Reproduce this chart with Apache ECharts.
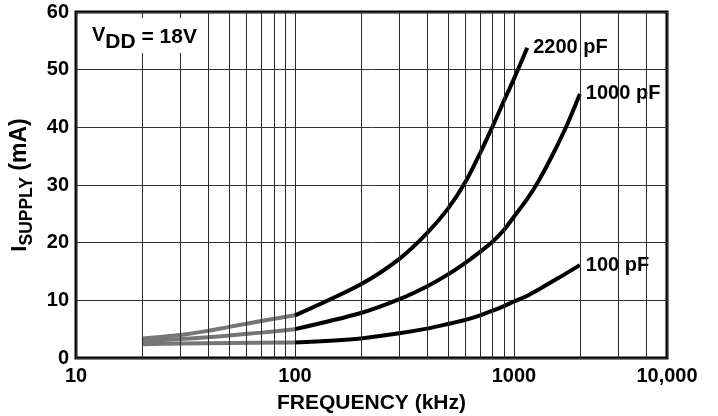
<!DOCTYPE html>
<html>
<head>
<meta charset="utf-8">
<script src="https://cdn.jsdelivr.net/npm/echarts@6/dist/echarts.min.js"></script>
<style>
  html, body { margin: 0; padding: 0; background: #fff; }
  #chart { width: 718px; height: 416px; }
</style>
</head>
<body>
<div id="chart"></div>
<script>
// Supply current versus switching frequency at VDD = 18 V, for three load capacitances.
const freq2200 = [20, 30, 40, 50, 70, 100, 200, 300, 400, 500, 600, 700, 800, 900, 1000, 1150];
const supply2200 = [3.4, 4.0, 4.7, 5.4, 6.4, 7.4, 12.8, 17.2, 21.6, 25.9, 30.5, 35.5, 40.2, 44.6, 48.4, 53.8];

const freq1000 = [20, 30, 40, 50, 70, 100, 200, 300, 400, 500, 600, 700, 800, 900, 1000, 1150, 1300, 1500, 1750, 2000];
const supply1000 = [2.9, 3.3, 3.6, 3.9, 4.4, 5.0, 7.8, 10.2, 12.4, 14.5, 16.5, 18.4, 20.2, 22.2, 24.5, 27.6, 30.8, 35.2, 40.5, 45.8];

const freq100 = [20, 30, 50, 100, 200, 300, 400, 500, 600, 700, 800, 900, 1000, 1150, 1300, 1600, 2000];
const supply100 = [2.4, 2.5, 2.6, 2.7, 3.4, 4.3, 5.1, 5.9, 6.6, 7.4, 8.2, 9.0, 9.8, 10.8, 11.9, 13.9, 16.1];

const curveNames = ['2200 pF', '1000 pF', '100 pF'];

// Frequency tick labels (the printed scale ends with a "10,000" mark at the right edge)
const xTickText = ['10', '100', '1000', '10,000'];
// Intermediate log-grid frequencies
const minorGridFreq = [20, 30, 40, 50, 60, 70, 80, 90, 200, 300, 400, 500, 600, 700, 800, 900, 2000, 3000, 4000];

// Below this frequency the traces are printed in a lighter grey
const shadeBelow = 100;

const FONT = 'Liberation Sans, Arial, sans-serif';

const pairs = (xs, ys) => xs.map((x, i) => [x, ys[i]]);

const curves = [
  [freq2200, supply2200],
  [freq1000, supply1000],
  [freq100, supply100]
];

const curveSeries = [];
curves.forEach(([xs, ys], i) => {
  const pts = pairs(xs, ys);
  const common = {
    type: 'line',
    showSymbol: false,
    symbol: 'none',
    smooth: 0.3,
    silent: true,
    z: 3
  };
  curveSeries.push(Object.assign({}, common, {
    name: curveNames[i] + ' (low)',
    data: pts.filter(p => p[0] <= shadeBelow),
    lineStyle: { width: 4, color: '#767676' }
  }));
  curveSeries.push(Object.assign({}, common, {
    name: curveNames[i],
    data: pts.filter(p => p[0] >= shadeBelow),
    lineStyle: { width: 4, color: '#000' },
    endLabel: {
      show: true,
      formatter: curveNames[i],
      color: '#000',
      fontFamily: FONT,
      fontWeight: 'bold',
      fontSize: 20,
      backgroundColor: '#fff',
      padding: [1, 2],
      distance: 4
    }
  }));
});

const chart = echarts.init(document.getElementById('chart'), null, { renderer: 'canvas' });

chart.setOption({
  animation: false,
  backgroundColor: '#fff',
  grid: {
    left: 76, right: 51, top: 12, bottom: 58,
    outerBoundsMode: 'none',
    containLabel: false,
    show: true,
    borderColor: '#000',
    borderWidth: 3,
    backgroundColor: 'transparent'
  },
  xAxis: {
    type: 'log',
    logBase: 10,
    min: 10,
    max: 5000,
    axisLine: { show: false },
    axisTick: { show: false },
    splitLine: { show: true, lineStyle: { color: '#2a2a2a', width: 1 } },
    axisLabel: {
      formatter: (v, i) => xTickText[i],
      color: '#000',
      fontFamily: FONT,
      fontWeight: 'bold',
      fontSize: 20,
      margin: 8
    },
    name: 'FREQUENCY (kHz)',
    nameLocation: 'middle',
    nameGap: 35,
    nameTextStyle: {
      color: '#000',
      fontFamily: FONT,
      fontWeight: 'bold',
      fontSize: 21
    }
  },
  yAxis: {
    type: 'value',
    min: 0,
    max: 60,
    interval: 10,
    axisLine: { show: false },
    axisTick: { show: false },
    splitLine: { show: true, lineStyle: { color: '#333', width: 1 } },
    axisLabel: {
      color: '#000',
      fontFamily: FONT,
      fontWeight: 'bold',
      fontSize: 20,
      margin: 7
    },
    name: '{i|I}{s|SUPPLY}{m| (mA)}',
    nameLocation: 'middle',
    nameGap: 39,
    nameTextStyle: {
      color: '#000',
      rich: {
        i: { fontFamily: FONT, fontWeight: 'bold', fontSize: 22, color: '#000' },
        s: { fontFamily: FONT, fontWeight: 'bold', fontSize: 17.5, color: '#000', padding: [14, 0, 0, 0] },
        m: { fontFamily: FONT, fontWeight: 'bold', fontSize: 23, color: '#000' }
      }
    }
  },
  graphic: [{
    type: 'text',
    left: 90,
    top: 18,
    z: 100,
    style: {
      text: '{v|V}{d|DD}{t| = 18V}',
      backgroundColor: '#fff',
      padding: [0, 2],
      rich: {
        v: { fontFamily: FONT, fontWeight: 'bold', fontSize: 20, fill: '#000' },
        d: { fontFamily: FONT, fontWeight: 'bold', fontSize: 21, fill: '#000', padding: [14, 0, 0, 0] },
        t: { fontFamily: FONT, fontWeight: 'bold', fontSize: 21, fill: '#000', padding: [4, 0, 0, 0] }
      }
    }
  }],
  series: [
    {
      name: 'grid',
      type: 'line',
      data: [],
      silent: true,
      markLine: {
        silent: true,
        symbol: ['none', 'none'],
        label: { show: false },
        lineStyle: { color: '#2a2a2a', width: 1, type: 'solid' },
        data: minorGridFreq.map(f => ({ xAxis: f }))
      },
      z: 1
    },
    ...curveSeries
  ]
});
</script>
</body>
</html>
